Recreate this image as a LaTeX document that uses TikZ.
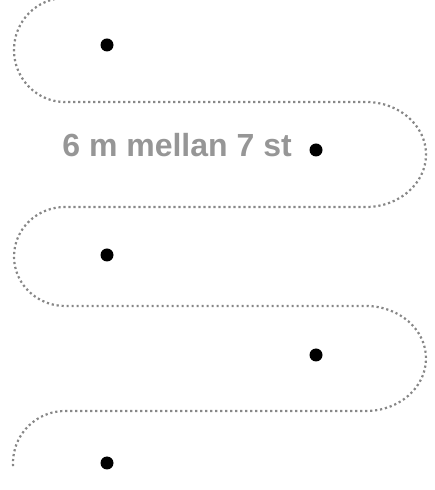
\documentclass[tikz,border=0pt]{standalone}
\usepackage{fontspec}
\setmainfont{Liberation Sans}
\definecolor{pathgray}{RGB}{135,135,135}
\definecolor{textgray}{RGB}{150,150,150}
\begin{document}
\begin{tikzpicture}[x=1pt,y=1pt,
  trail/.style={pathgray,line width=2.2pt,dash pattern=on 2.2pt off 2.8pt},
  spot/.style={circle,fill=black,inner sep=0pt,minimum size=13pt},
  lbl/.style={text=textgray,font=\bfseries\fontsize{32}{36}\selectfont,inner sep=0pt}]
\useasboundingbox (0,0) rectangle (435,490);
\clip (0,0) rectangle (435,490);
\draw[trail] (65,492) arc[start angle=90,end angle=270,x radius=51,y radius=52]
  -- (366,388) arc[start angle=90,end angle=-90,x radius=60,y radius=52.5]
  -- (65,283) arc[start angle=90,end angle=270,x radius=51,y radius=49.5]
  -- (366,184) arc[start angle=90,end angle=-90,x radius=60,y radius=52.5]
  -- (65,79) arc[start angle=90,end angle=186,x radius=52,y radius=52];
\node[spot] (d1) at (107,445) {};
\node[spot] (d2) at (316,340) {};
\node[spot] (d3) at (107,235) {};
\node[spot] (d4) at (316,135) {};
\node[spot] (d5) at (107,27) {};
\node[lbl,anchor=base east] (t) at (292,333) {6 m mellan 7 st};
\end{tikzpicture}
\end{document}
